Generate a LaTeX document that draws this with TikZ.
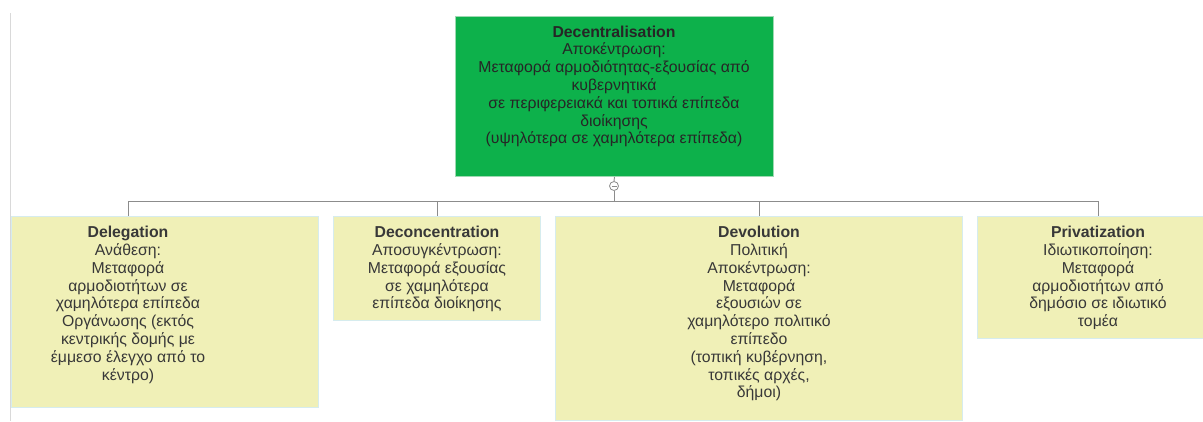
\documentclass[tikz,border=0pt]{standalone}
\usepackage{fontspec}
\setmainfont{Liberation Sans}
\definecolor{topgreen}{HTML}{0DB14B}
\definecolor{topborder}{HTML}{9ED9B2}
\definecolor{leafyellow}{HTML}{F0F0B7}
\definecolor{leafborder}{HTML}{D6ECEE}
\definecolor{txt}{HTML}{383838}
\definecolor{linegray}{HTML}{8C8C8C}
\begin{document}
\begin{tikzpicture}[x=1pt,y=-1pt,
  box/.style={draw=leafborder, fill=leafyellow, line width=1pt, anchor=north west, inner sep=0pt},
  lbl/.style={anchor=north, align=center, text=txt, font=\fontsize{15.8}{17.8}\selectfont, inner sep=0pt},
  conn/.style={draw=linegray, line width=0.9pt}]
\useasboundingbox (0,0) rectangle (1203,421);
\draw[black!15, line width=1pt] (10,13) -- (10,421);
% boxes
\node[box, fill=topgreen, draw=topborder, minimum width=318pt, minimum height=160pt] (top) at (455,16) {};
\node[box, minimum width=307pt, minimum height=191pt] (del) at (11,216) {};
\node[box, minimum width=207pt, minimum height=104pt] (dec) at (333,216) {};
\node[box, minimum width=407pt, minimum height=204pt] (dev) at (555,216) {};
\node[box, minimum width=240pt, minimum height=122pt] (pri) at (977,216) {};
% labels
\node[lbl, text=black!85] (toplbl) at (614,25.5) {\textbf{Decentralisation}\\Αποκέντρωση:\\Μεταφορά αρμοδιότητας-εξουσίας από\\κυβερνητικά\\σε περιφερειακά και τοπικά επίπεδα\\διοίκησης\\(υψηλότερα σε χαμηλότερα επίπεδα)};
\node[lbl] (dellbl) at (128,226) {\textbf{Delegation}\\Ανάθεση:\\Μεταφορά\\αρμοδιοτήτων σε\\χαμηλότερα επίπεδα\\Οργάνωσης (εκτός\\κεντρικής δομής με\\έμμεσο έλεγχο από το\\κέντρο)};
\node[lbl] (declbl) at (437,226) {\textbf{Deconcentration}\\Αποσυγκέντρωση:\\Μεταφορά εξουσίας\\σε χαμηλότερα\\επίπεδα διοίκησης};
\node[lbl] (devlbl) at (759,226) {\textbf{Devolution}\\Πολιτική\\Αποκέντρωση:\\Μεταφορά\\εξουσιών σε\\χαμηλότερο πολιτικό\\επίπεδο\\(τοπική κυβέρνηση,\\τοπικές αρχές,\\δήμοι)};
\node[lbl] (prilbl) at (1098,226) {\textbf{Privatization}\\Ιδιωτικοποίηση:\\Μεταφορά\\αρμοδιοτήτων από\\δημόσιο σε ιδιωτικό\\τομέα};
% connectors
\node[circle, draw=linegray, fill=white, line width=0.8pt, minimum size=9pt, inner sep=0pt] (collapse) at (614,186) {};
\draw[linegray, line width=0.8pt] ([xshift=-2.5pt]collapse.center) -- ([xshift=2.5pt]collapse.center);
\coordinate (bus) at (614,201);
\coordinate (busL) at (128,201);
\coordinate (busR) at (1098,201);
\coordinate (busDec) at (437,201);
\coordinate (busDev) at (759,201);
\draw[conn] (top.south) -- (collapse.north);
\draw[conn] (collapse.south) -- (bus);
\draw[conn] (busL |- del.north) -- (busL) -- (busR) -- (busR |- pri.north);
\draw[conn] (busDec) -- (busDec |- dec.north);
\draw[conn] (busDev) -- (busDev |- dev.north);
\end{tikzpicture}
\end{document}
